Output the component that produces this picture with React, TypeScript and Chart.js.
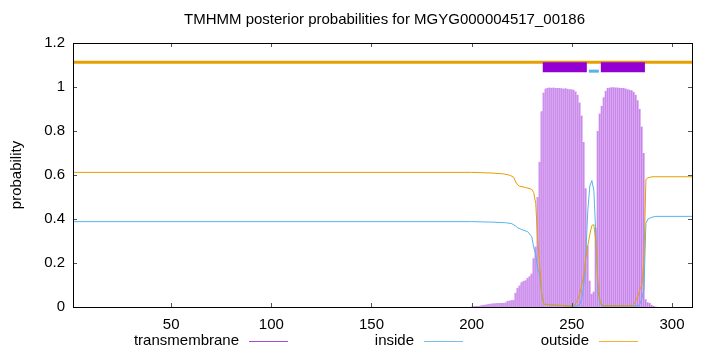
import React, { useEffect, useRef } from "react";
import { Chart, registerables } from "chart.js";

Chart.register(...registerables);

const TITLE = "TMHMM posterior probabilities for MGYG000004517_00186";
const Y_LABEL = "probability";
const X_MIN = 1;
const X_MAX = 310;
const X_TICKS = [50, 100, 150, 200, 250, 300];
const Y_TICKS = [0, 0.2, 0.4, 0.6, 0.8, 1, 1.2];

// Transmembrane posterior per residue, starting at TM_START
const TM_START = 200;
const TM_PROB = [
  0.002, 0.003, 0.004, 0.005, 0.006, 0.008, 0.01, 0.011, 0.013, 0.015,
  0.016, 0.017, 0.017, 0.018, 0.018, 0.019, 0.019, 0.02, 0.028, 0.03,
  0.031, 0.033, 0.065, 0.088, 0.098, 0.112, 0.118, 0.122, 0.133, 0.14,
  0.152, 0.222, 0.275, 0.5, 0.66, 0.89, 0.975, 0.993, 0.997, 0.998,
  0.997, 0.998, 0.996, 0.995, 0.996, 0.994, 0.993, 0.994, 0.992, 0.99,
  0.99, 0.988, 0.98, 0.965, 0.93, 0.87, 0.75, 0.54, 0.28, 0.12,
  0.06, 0.07, 0.36, 0.8, 0.88, 0.915, 0.953, 0.983, 0.995, 0.998,
  0.999, 0.999, 0.998, 0.998, 0.997, 0.996, 0.995, 0.993, 0.99, 0.988,
  0.985, 0.978, 0.965, 0.94, 0.9, 0.82, 0.7, 0.035, 0.022, 0.018,
  0.01, 0.004, 0.002,
];

const INSIDE_POS = [1, 200, 210, 217, 220, 222, 223, 225, 228, 230, 231, 232, 233, 234, 235, 236, 252, 254, 255, 256, 257, 258, 259, 260, 261, 262, 263, 264, 265, 283, 284, 285, 286, 287, 288, 290, 292, 310];
const INSIDE_PROB = [0.388, 0.388, 0.386, 0.383, 0.379, 0.368, 0.36, 0.352, 0.342, 0.32, 0.27, 0.24, 0.17, 0.15, 0.05, 0.012, 0.003, 0.012, 0.04, 0.1, 0.24, 0.44, 0.55, 0.575, 0.53, 0.33, 0.08, 0.02, 0.005, 0.005, 0.012, 0.04, 0.08, 0.38, 0.4, 0.408, 0.412, 0.412];

const OUTSIDE_POS = [1, 200, 210, 216, 219, 221, 222, 223, 224, 227, 230, 231, 232, 233, 234, 235, 236, 250, 251, 252, 253, 254, 255, 256, 257, 258, 259, 260, 261, 262, 263, 264, 265, 266, 280, 281, 282, 283, 284, 285, 286, 287, 288, 290, 310];
const OUTSIDE_PROB = [0.612, 0.612, 0.609, 0.605, 0.599, 0.59, 0.568, 0.555, 0.549, 0.543, 0.535, 0.52, 0.47, 0.3, 0.19, 0.06, 0.013, 0.003, 0.008, 0.017, 0.035, 0.062, 0.1, 0.15, 0.22, 0.28, 0.33, 0.37, 0.375, 0.3, 0.12, 0.035, 0.012, 0.005, 0.005, 0.012, 0.03, 0.05, 0.08, 0.1, 0.22, 0.58, 0.587, 0.592, 0.592];

// Predicted topology (drawn segment ends)
const OUTSIDE_LINE = [1, 310];
const OUTSIDE_LEVEL = 1.113;
const TM_SEGMENTS = [[235.5, 257.5], [264.5, 286.5]];
const TM_LEVEL = 1.09;
const INSIDE_SEGMENTS = [[258.5, 263.5]];
const INSIDE_LEVEL = 1.072;

const LEGEND = [
  { label: "transmembrane", color: "#a64bd6", textEnd: 239, lineX: 249 },
  { label: "inside", color: "#7cc0ea", textEnd: 414, lineX: 424 },
  { label: "outside", color: "#efb13a", textEnd: 589, lineX: 599 },
];

const FONT = "'Liberation Sans', Arial, sans-serif";

const overlayPlugin = {
  id: "overlay",
  afterDraw(chart: any) {
    const { ctx, chartArea: a, scales } = chart;
    const xs = scales.x;
    const ys = scales.y;
    ctx.save();
    // ticks (inward, mirrored)
    ctx.strokeStyle = "#555";
    ctx.lineWidth = 1;
    ctx.beginPath();
    for (const v of X_TICKS) {
      const px = Math.round(xs.getPixelForValue(v)) + 0.5;
      ctx.moveTo(px, a.bottom);
      ctx.lineTo(px, a.bottom - 4);
      ctx.moveTo(px, a.top);
      ctx.lineTo(px, a.top + 4);
    }
    for (const v of Y_TICKS) {
      const py = Math.round(ys.getPixelForValue(v)) + 0.5;
      ctx.moveTo(a.left, py);
      ctx.lineTo(a.left + 4, py);
      ctx.moveTo(a.right, py);
      ctx.lineTo(a.right - 4, py);
    }
    ctx.stroke();
    // border
    ctx.strokeStyle = "#000";
    ctx.strokeRect(a.left + 0.5, a.top + 0.5, a.right - a.left, a.bottom - a.top);
    // title
    ctx.fillStyle = "#000";
    ctx.font = `15px ${FONT}`;
    ctx.textAlign = "center";
    ctx.textBaseline = "middle";
    ctx.fillText(TITLE, (a.left + a.right) / 2 + 2, 20);
    // y label
    ctx.save();
    ctx.translate(17, (a.top + a.bottom) / 2);
    ctx.rotate(-Math.PI / 2);
    ctx.fillText(Y_LABEL, 0, 0);
    ctx.restore();
    // legend
    ctx.textAlign = "right";
    for (const item of LEGEND) {
      ctx.fillStyle = "#000";
      ctx.fillText(item.label, item.textEnd, 341);
      ctx.strokeStyle = item.color;
      ctx.beginPath();
      ctx.moveTo(item.lineX, 341.5);
      ctx.lineTo(item.lineX + 39, 341.5);
      ctx.stroke();
    }
    ctx.restore();
  },
};

export default function App() {
  const ref = useRef<HTMLCanvasElement | null>(null);
  useEffect(() => {
    if (!ref.current) return;
    const tmData = TM_PROB.map((y, i) => ({ x: TM_START + i, y }));
    const insideData = INSIDE_POS.map((x, i) => ({ x, y: INSIDE_PROB[i] }));
    const outsideData = OUTSIDE_POS.map((x, i) => ({ x, y: OUTSIDE_PROB[i] }));
    const seg = (s: number[], level: number) => [
      { x: s[0], y: level },
      { x: s[1], y: level },
    ];
    const lineBase = {
      type: "line" as const,
      pointRadius: 0,
      fill: false,
      tension: 0,
      borderCapStyle: "butt" as const,
    };
    const datasets: any[] = [
      {
        type: "bar",
        label: "transmembrane",
        data: tmData,
        backgroundColor: "#e2b3f6",
        borderColor: "#b263df",
        borderWidth: { left: 1, right: 0, top: 0, bottom: 0 },
        borderSkipped: false,
        barPercentage: 1,
        categoryPercentage: 1,
        order: 10,
      },
      { ...lineBase, label: "inside", data: insideData, borderColor: "#56b4e9", borderWidth: 1, order: 5 },
      { ...lineBase, label: "outside", data: outsideData, borderColor: "#e69f00", borderWidth: 1, order: 4 },
      { ...lineBase, label: "topo-out", data: seg(OUTSIDE_LINE, OUTSIDE_LEVEL), borderColor: "#e69f00", borderWidth: 3, order: 3 },
      ...TM_SEGMENTS.map((s) => ({ ...lineBase, label: "topo-tm", data: seg(s, TM_LEVEL), borderColor: "#9400d3", borderWidth: 10, order: 2 })),
      ...INSIDE_SEGMENTS.map((s) => ({ ...lineBase, label: "topo-in", data: seg(s, INSIDE_LEVEL), borderColor: "#56b4e9", borderWidth: 3, order: 1 })),
    ];
    const chart = new Chart(ref.current, {
      type: "bar",
      data: { datasets },
      plugins: [overlayPlugin],
      options: {
        animation: false,
        responsive: false,
        maintainAspectRatio: false,
        layout: { padding: { top: 43, right: 28, left: 0, bottom: 0 } },
        plugins: { legend: { display: false }, title: { display: false }, tooltip: { enabled: false } },
        scales: {
          x: {
            type: "linear",
            min: X_MIN,
            max: X_MAX,
            offset: false,
            grid: { display: false, drawTicks: false },
            border: { display: false },
            afterBuildTicks: (axis: any) => {
              axis.ticks = X_TICKS.map((value) => ({ value }));
            },
            afterFit: (axis: any) => {
              axis.height = 45;
            },
            ticks: {
              autoSkip: false,
              maxRotation: 0,
              padding: 9,
              color: "#000",
              font: { family: FONT, size: 15 },
              callback: (v: any) => String(v),
            },
          },
          y: {
            type: "linear",
            min: 0,
            max: 1.2,
            grid: { display: false, drawTicks: false },
            border: { display: false },
            afterBuildTicks: (axis: any) => {
              axis.ticks = Y_TICKS.map((value) => ({ value }));
            },
            afterFit: (axis: any) => {
              axis.width = 73;
            },
            ticks: {
              padding: 8,
              color: "#000",
              font: { family: FONT, size: 15 },
              callback: (v: any) => String(Math.round(Number(v) * 10) / 10),
            },
          },
        },
      } as any,
    });
    return () => chart.destroy();
  }, []);
  return (
    <div style={{ position: "fixed", left: 0, top: 0, width: 720, height: 352, background: "#fff" }}>
      <canvas ref={ref} width={720} height={352} style={{ width: 720, height: 352, display: "block" }} />
    </div>
  );
}
